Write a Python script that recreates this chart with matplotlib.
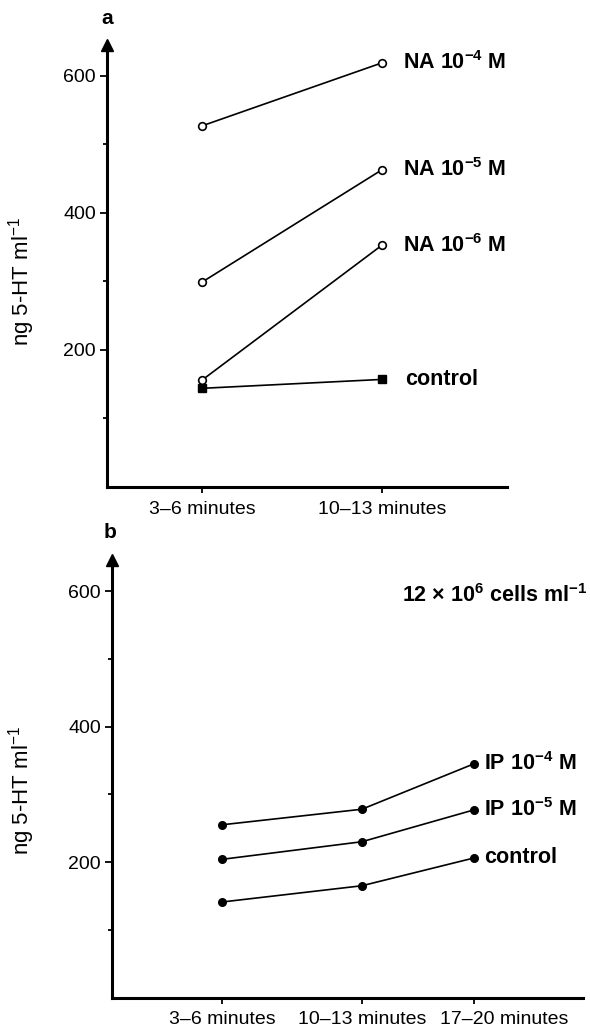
import matplotlib
matplotlib.use("Agg")
import matplotlib.pyplot as plt
import matplotlib.transforms as mtransforms

plt.rcParams['font.family'] = ['Liberation Sans', 'DejaVu Sans']
plt.rcParams['mathtext.default'] = 'regular'

# panel a : noradrenaline
periodes_a = ['3\u20136 minutes', '10\u201313 minutes']
na_4 = [527, 619]
na_5 = [299, 463]
na_6 = [156, 353]
controle_a = [144, 157]

# panel b : isoprenaline
periodes_b = ['3\u20136 minutes', '10\u201313 minutes', '17\u201320 minutes']
pos_b = [0, 1, 1.8]
ip_4 = [255, 278, 345]
ip_5 = [204, 230, 277]
controle_b = [141, 165, 206]

W, H = 590, 1029
fig = plt.figure(figsize=(W / 100, H / 100), dpi=100)


def px_box(left, right, top, bottom):
    return [left / W, 1 - bottom / H, (right - left) / W, (bottom - top) / H]


def style_axes(ax, ytop):
    ax.set_ylim(0, ytop)
    for s in ['top', 'right']:
        ax.spines[s].set_visible(False)
    ax.spines['left'].set_linewidth(2.2)
    ax.spines['bottom'].set_linewidth(2.2)
    ax.set_yticks([200, 400, 600])
    ax.set_yticks([100, 300, 500], minor=True)
    ax.tick_params(axis='y', which='major', length=5, width=1.3, labelsize=14, pad=3)
    ax.tick_params(axis='y', which='minor', length=3, width=1.3)
    ax.tick_params(axis='x', length=4, width=1.3, labelsize=14, pad=6)
    # fleche en haut de l'axe y
    ax.plot([0], [1], marker='^', ms=9, color='black', transform=ax.transAxes,
            clip_on=False)
    ax.set_ylabel('ng 5-HT ml$^{-1}$', fontsize=16)


lw = 1.2
ms = 5.5

# ---------- panel a ----------
ax1 = fig.add_axes(px_box(107, 507, 45, 487))
style_axes(ax1, 645)
ax1.set_xlim(-0.528, 1.694)
ax1.set_xticks([0, 1])
ax1.set_xticklabels(periodes_a)
ax1.yaxis.set_label_coords(-0.175, 0.464)

xa = [0, 1]
for serie in [na_4, na_5, na_6]:
    ax1.plot(xa, serie, '-o', color='black', lw=lw, ms=ms, mfc='white', mew=1.2, zorder=3)
ax1.plot(xa, controle_a, '-s', color='black', lw=lw, ms=ms, zorder=2)

txt = dict(fontsize=15.5, fontweight='bold', va='center', ha='left')
ax1.text(1.117, na_4[1], 'NA 10$^{-4}$ M', **txt)
ax1.text(1.117, na_5[1], 'NA 10$^{-5}$ M', **txt)
ax1.text(1.117, na_6[1], 'NA 10$^{-6}$ M', **txt)
ax1.text(1.13, controle_a[1], 'control', **txt)

fig.text(107 / W, 1 - 19 / H, 'a', fontsize=15, fontweight='bold', ha='center', va='center')

# ---------- panel b ----------
ax2 = fig.add_axes(px_box(112, 583, 560, 997.5))
style_axes(ax2, 646)
ax2.set_xlim(-0.786, 2.58)
ax2.set_xticks(pos_b)
ax2.set_xticklabels(periodes_b)
ax2.yaxis.set_label_coords(-0.159, 0.474)
# le dernier libelle est decale vers la droite
decal = mtransforms.ScaledTranslation(30 / 100, 0, fig.dpi_scale_trans)
lab = ax2.get_xticklabels()[-1]
lab.set_transform(lab.get_transform() + decal)

for serie in [ip_4, ip_5, controle_b]:
    ax2.plot(pos_b, serie, '-o', color='black', lw=lw, ms=ms, zorder=3)

ax2.text(1.871, ip_4[2], 'IP 10$^{-4}$ M', **txt)
ax2.text(1.871, ip_5[2], 'IP 10$^{-5}$ M', **txt)
ax2.text(1.871, controle_b[2], 'control', **txt)
ax2.text(1.286, 594, '12 \u00d7 10$^{6}$ cells ml$^{-1}$', **txt)

fig.text(110 / W, 1 - 533 / H, 'b', fontsize=15, fontweight='bold', ha='center', va='center')

fig.savefig('out.png', dpi=100)
